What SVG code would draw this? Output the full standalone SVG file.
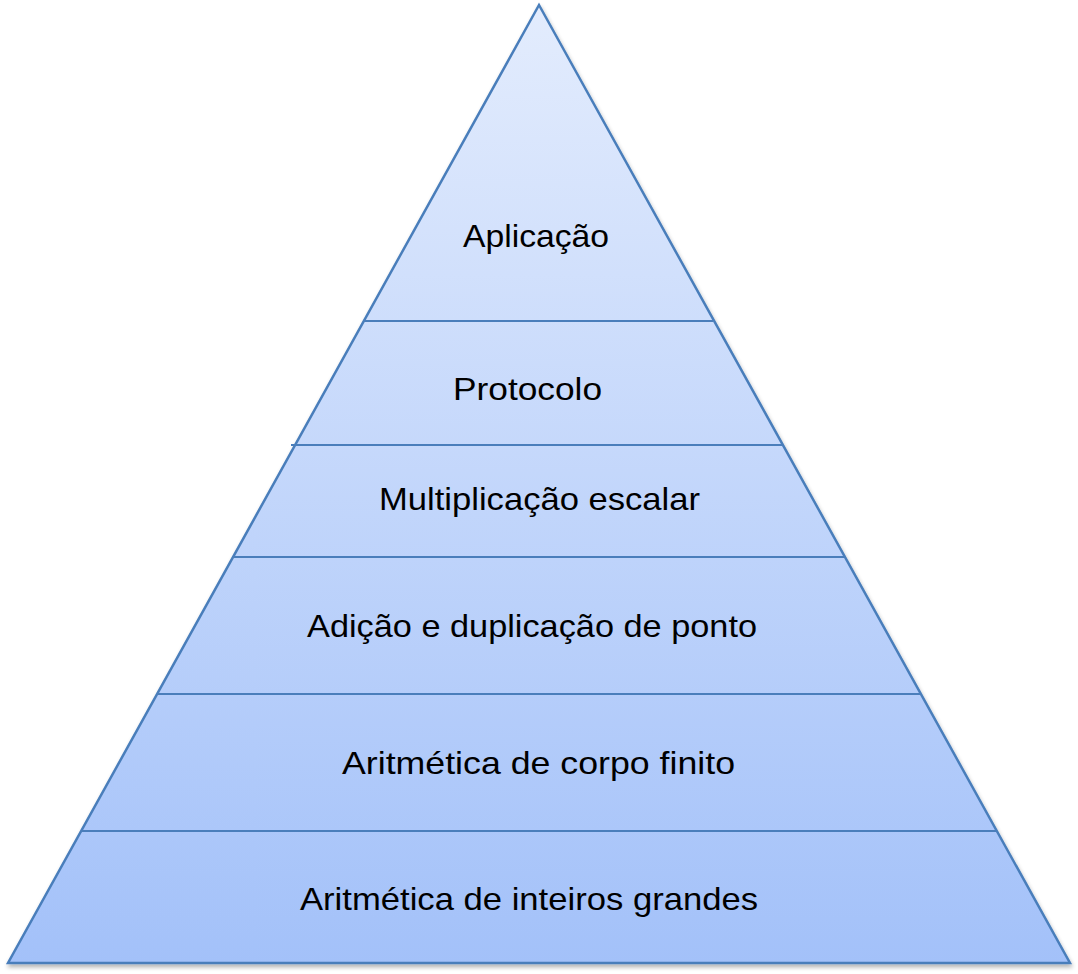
<svg xmlns="http://www.w3.org/2000/svg" width="1078" height="974" viewBox="0 0 1078 974">
<defs>
<linearGradient id="g" x1="0" y1="0" x2="0" y2="1">
<stop offset="0" stop-color="#e3ecfd"/>
<stop offset="1" stop-color="#a3c1f9"/>
</linearGradient>
<filter id="sh" x="-5%" y="-5%" width="110%" height="110%">
<feGaussianBlur in="SourceAlpha" stdDeviation="2"/>
<feOffset dx="1" dy="3"/>
<feComponentTransfer><feFuncA type="linear" slope="0.3"/></feComponentTransfer>
<feMerge><feMergeNode/><feMergeNode in="SourceGraphic"/></feMerge>
</filter>
<style>
.ln{stroke:#4a7ebb;stroke-width:2;fill:none}
.t{font-family:"Liberation Sans",Arial,sans-serif;font-size:32px;fill:#000;text-anchor:start}
</style>
</defs>
<rect width="1078" height="974" fill="#fff"/>
<g id="pyramid">
<polygon points="539,5 8,963 1070,963" fill="url(#g)" stroke="#4a7ebb" stroke-width="2.5" stroke-linejoin="miter" filter="url(#sh)"/>
</g>
<g id="connectors">
<line class="ln" x1="364" y1="321" x2="713" y2="321"/>
<line class="ln" x1="291" y1="445" x2="783" y2="445"/>
<line class="ln" x1="232" y1="557" x2="845" y2="557"/>
<line class="ln" x1="157" y1="694" x2="921" y2="694"/>
<line class="ln" x1="81" y1="831" x2="997" y2="831"/>
</g>
<g id="n1"><text class="t" x="463" y="247" textLength="146" lengthAdjust="spacingAndGlyphs">Aplicação</text></g>
<g id="n2"><text class="t" x="453" y="400" textLength="149" lengthAdjust="spacingAndGlyphs">Protocolo</text></g>
<g id="n3"><text class="t" x="379" y="510" textLength="321" lengthAdjust="spacingAndGlyphs">Multiplicação escalar</text></g>
<g id="n4"><text class="t" x="307" y="637" textLength="450" lengthAdjust="spacingAndGlyphs">Adição e duplicação de ponto</text></g>
<g id="n5"><text class="t" x="342" y="774" textLength="393" lengthAdjust="spacingAndGlyphs">Aritmética de corpo finito</text></g>
<g id="n6"><text class="t" x="300" y="910" textLength="458" lengthAdjust="spacingAndGlyphs">Aritmética de inteiros grandes</text></g>
</svg>
